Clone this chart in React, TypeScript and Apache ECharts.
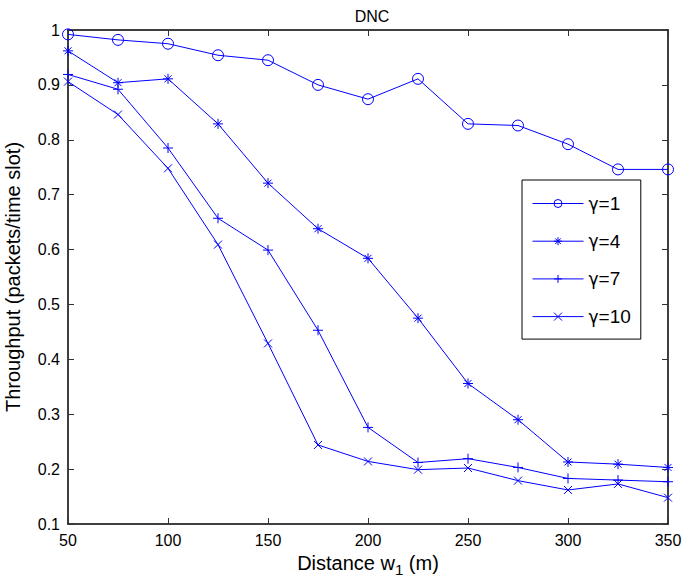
import React, { useEffect, useRef } from "react";
import * as echarts from "echarts";

const distances = [50, 75, 100, 125, 150, 175, 200, 225, 250, 275, 300, 325, 350];
const gamma1 = [0.992, 0.982, 0.975, 0.954, 0.945, 0.9, 0.874, 0.911, 0.829, 0.826, 0.792, 0.746, 0.746];
const gamma4 = [0.962, 0.904, 0.911, 0.829, 0.721, 0.638, 0.584, 0.475, 0.356, 0.29, 0.213, 0.209, 0.203];
const gamma7 = [0.919, 0.892, 0.785, 0.657, 0.599, 0.453, 0.276, 0.212, 0.219, 0.203, 0.183, 0.18, 0.177];
const gamma10 = [0.906, 0.846, 0.748, 0.609, 0.429, 0.244, 0.214, 0.199, 0.202, 0.179, 0.162, 0.173, 0.148];
const seriesNames = ["γ=1", "γ=4", "γ=7", "γ=10"];

const BLUE = "#0000ff";
const FONT = "Liberation Sans";

const SYM_CIRCLE = "path://M10 5A5 5 0 1 1 0 5A5 5 0 1 1 10 5Z";
const SYM_STAR = "path://M5 0L5 10M0 5L10 5M1.5 1.5L8.5 8.5M8.5 1.5L1.5 8.5";
const SYM_PLUS = "path://M5 0L5 10M0 5L10 5";
const SYM_X = "path://M0 0L10 10M10 0L0 10";

function pairs(ys: number[]) {
  return distances.map((x, i) => [x, ys[i]]);
}

export default function App() {
  const ref = useRef<HTMLDivElement>(null);
  useEffect(() => {
    if (!ref.current) return;
    const chart = echarts.init(ref.current, undefined, { renderer: "svg" });
    const mk = (name: string, ys: number[], symbol: string, size: number) => ({
      name,
      type: "line",
      data: pairs(ys),
      symbol,
      symbolSize: size,
      showSymbol: true,
      lineStyle: { color: BLUE, width: 1 },
      itemStyle: { color: "transparent", borderColor: BLUE, borderWidth: 1 },
      emphasis: { disabled: true },
      z: 3,
    });
    const tickStyle = { show: true, inside: true, length: 6, lineStyle: { color: "#333", width: 1 } };
    chart.setOption({
      animation: false,
      backgroundColor: "#ffffff",
      title: {
        text: "DNC",
        left: 367,
        top: 3,
        textAlign: "center",
        textStyle: { fontFamily: FONT, fontSize: 16, fontWeight: "normal", color: "#000" },
      },
      grid: { left: 68, right: 14, top: 30, bottom: 60, containLabel: false, outerBoundsMode: "none" },
      legend: {
        orient: "vertical",
        left: 522,
        top: 180,
        padding: [14, 10, 13, 10],
        itemWidth: 51,
        itemHeight: 10,
        itemGap: 18.7,
        backgroundColor: "#fff",
        borderColor: "#000",
        borderWidth: 1,
        borderRadius: 0,
        data: seriesNames,
        formatter: (name: string) => "{g|γ}" + name.slice(1),
        lineStyle: { width: 1, color: BLUE },
        itemStyle: { color: "transparent", borderColor: BLUE, borderWidth: 1 },
        textStyle: {
          fontFamily: FONT,
          fontSize: 19,
          color: "#000",
          rich: { g: { fontFamily: "DejaVu Sans", fontSize: 17, color: "#000" } },
        },
      },
      xAxis: [
        {
          type: "value",
          min: 50,
          max: 350,
          interval: 50,
          name: "Distance w{sub|1} (m)",
          nameLocation: "middle",
          nameGap: 22,
          nameTextStyle: {
            fontFamily: FONT,
            fontSize: 20,
            color: "#000",
            rich: { sub: { fontFamily: FONT, fontSize: 15, color: "#000", padding: [14, 0, 0, 0] } },
          },
          axisLine: { show: true, onZero: false, lineStyle: { color: "#000", width: 1.5 } },
          axisTick: tickStyle,
          axisLabel: { fontFamily: FONT, fontSize: 16, color: "#000", margin: 8 },
          splitLine: { show: false },
        },
        {
          type: "value",
          position: "top",
          min: 50,
          max: 350,
          interval: 50,
          axisLine: { show: true, onZero: false, lineStyle: { color: "#000", width: 1.5 } },
          axisTick: tickStyle,
          axisLabel: { show: false },
          splitLine: { show: false },
        },
      ],
      yAxis: [
        {
          type: "value",
          min: 0.1,
          max: 1,
          interval: 0.1,
          name: "Throughput (packets/time slot)",
          nameLocation: "middle",
          nameGap: 45,
          nameTextStyle: { fontFamily: FONT, fontSize: 20, color: "#000" },
          axisLine: { show: true, onZero: false, lineStyle: { color: "#000", width: 1.5 } },
          axisTick: tickStyle,
          axisLabel: { fontFamily: FONT, fontSize: 16, color: "#000", margin: 8 },
          splitLine: { show: false },
        },
        {
          type: "value",
          position: "right",
          min: 0.1,
          max: 1,
          interval: 0.1,
          axisLine: { show: true, onZero: false, lineStyle: { color: "#000", width: 1.5 } },
          axisTick: tickStyle,
          axisLabel: { show: false },
          splitLine: { show: false },
        },
      ],
      series: [
        mk(seriesNames[0], gamma1, SYM_CIRCLE, 11),
        mk(seriesNames[1], gamma4, SYM_STAR, 10),
        mk(seriesNames[2], gamma7, SYM_PLUS, 10),
        mk(seriesNames[3], gamma10, SYM_X, 8),
      ],
    });
    return () => chart.dispose();
  }, []);
  return (
    <div
      ref={ref}
      style={{ position: "fixed", left: 0, top: 0, width: 682, height: 584, background: "#fff" }}
    />
  );
}
